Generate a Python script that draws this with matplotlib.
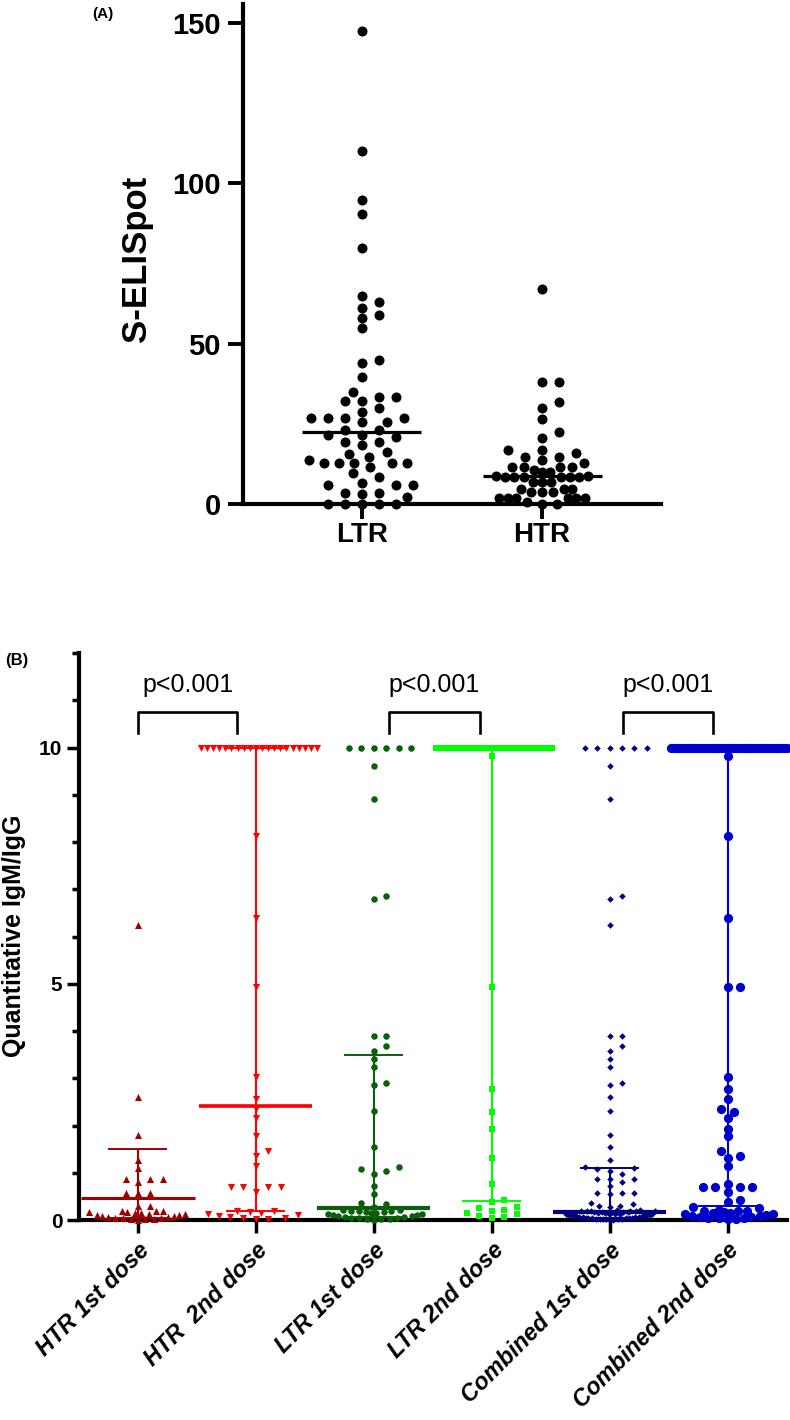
import numpy as np
import matplotlib
matplotlib.use('Agg')
import matplotlib.pyplot as plt
from matplotlib.ticker import FixedLocator

plt.rcParams['font.family'] = ['Liberation Sans', 'DejaVu Sans']

# ---------------- Panel A data ----------------
a_categories = ['LTR', 'HTR']
a_ltr = [147.5, 110, 95, 90.5, 80, 65, 63, 61, 59, 58, 55, 45, 44, 39.5,
         34.8, 33.5, 33.5, 32, 32, 30, 28.8, 26.8, 26.8, 26.8, 26.8, 25.7, 25.7,
         23.1, 23.1, 21.6, 21.6, 20.8, 19.5, 19.5, 18.4, 16.3, 15.6, 14.8, 13.7,
         12.7, 12.7, 12.7, 12.7, 12.7, 11.7, 9.6, 8.5, 6.7, 5.9, 5.9, 5.9,
         3.5, 3.5, 3.2, 2.3, 0, 0, 0, 0, 0]
a_htr = [67, 38, 38, 31.7, 29.9, 26.6, 22.6, 20.7, 16.7, 16.7, 15.8, 14.8, 14.8,
         13.7, 12.7, 11.7, 11.7, 11.7, 11.7, 10.6, 10.1, 10.1, 8.8, 8.8,
         8.5, 8.5, 8.5, 8.5, 8.5, 8.5, 7, 7, 7, 4.6, 4.6, 4.6, 3.9, 3.9, 3.9,
         1.8, 1.8, 1.8, 1.8, 1.8, 1.8, 0.5, 0, 0]
a_medians = [22.4, 8.85]
a_yticks = [0, 50, 100, 150]

# ---------------- Panel B data ----------------
b_categories = ['HTR 1st dose', 'HTR  2nd dose', 'LTR 1st dose', 'LTR 2nd dose',
                'Combined 1st dose', 'Combined 2nd dose']
htr_1st = [6.24, 2.6, 1.8, 1.27, 1.09, 0.87, 0.87, 0.87, 0.8, 0.57, 0.57, 0.57,
           0.3, 0.3, 0.2, 0.19, 0.18, 0.17, 0.16, 0.15, 0.14, 0.13, 0.12, 0.11,
           0.1, 0.09, 0.08, 0.07, 0.06, 0.05, 0.05, 0.04, 0.03, 0.02, 0.02, 0.01]
htr_2nd = [10, 10, 10, 10, 10, 10, 10, 10, 10, 10, 10, 10, 10, 10, 10, 10, 10, 10, 10, 10,
           8.12, 6.4, 4.94, 3.03, 2.56, 2.35, 2.16, 1.78, 1.45, 1.36, 1.15,
           0.7, 0.7, 0.7, 0.7, 0.59,
           0.2, 0.19, 0.17, 0.15, 0.13, 0.11, 0.09, 0.07, 0.05, 0.04, 0.03, 0.02]
ltr_1st = [10, 10, 10, 10, 10, 10, 9.6, 8.92, 6.85, 6.8, 3.9, 3.9, 3.69, 3.58, 3.4,
           3.23, 2.91, 2.85, 2.31, 1.55, 1.12, 1.08, 1.03, 0.98, 0.71, 0.55, 0.35,
           0.33, 0.28, 0.22, 0.21, 0.2, 0.19, 0.18, 0.17, 0.16, 0.15, 0.14, 0.13,
           0.12, 0.11, 0.1, 0.09, 0.08, 0.07, 0.06, 0.05, 0.05, 0.04, 0.03, 0.02,
           0.02, 0.01]
ltr_2nd = [10, 10, 10, 10, 10, 10, 10, 10, 10, 10, 10, 10, 10, 10, 10, 10, 10, 10, 10, 10, 10, 10,
           9.83, 4.93, 2.77, 2.29, 1.93, 1.32, 0.77, 0.42, 0.38, 0.28, 0.26, 0.22,
           0.2, 0.14, 0.12, 0.08, 0.06, 0.04]
combined_1st = htr_1st + ltr_1st
combined_2nd = htr_2nd + ltr_2nd
b_groups = [htr_1st, htr_2nd, ltr_1st, ltr_2nd, combined_1st, combined_2nd]
b_medians = [0.47, 2.42, 0.25, 10.0, 0.16, 10.0]
b_q1 = [0.05, 0.18, 0.06, 0.41, 0.05, 0.3]
b_q3 = [1.5, 10.0, 3.5, 10.0, 1.09, 10.0]
b_colors = ['#A00000', '#FF0000', '#0A600A', '#00FF00', '#000080', '#0000CC']
b_markers = ['^', 'v', 'o', 's', 'D', 'o']
b_sizes = [26, 26, 22, 22, 11, 44]
b_median_lw = [2.2, 2.6, 3.0, 3.5, 3.0, 3.0]
b_yticks = [0, 5, 10]
b_pairs = [(0.004, 0.844), (2.127, 2.899), (4.11, 4.88)]
b_ptext = ['p<0.001', 'p<0.001', 'p<0.001']

W, H = 790, 1420
fig = plt.figure(figsize=(W / 100, H / 100), dpi=100)


def box(l, r, t, b):
    return [l / W, 1 - b / H, (r - l) / W, (b - t) / H]


def swarm(ax, xc, vals, step_px, sy_px, max_half_px):
    vals = np.asarray(vals, float)
    n = len(vals)
    pts = ax.transData.transform(np.column_stack([np.full(n, xc), vals]))
    x0 = pts[0, 0]
    ypx = pts[:, 1]
    order = np.argsort(vals, kind='stable')
    px_, py_, ps_ = [], [], []
    offs = np.zeros(n)
    for i in order:
        y = ypx[i]
        nloc = int(np.sum(np.abs(ypx - y) < sy_px))
        sp = step_px if nloc <= 1 else min(step_px, 2 * max_half_px / (nloc - 1))
        h = sp / 2
        cands = [0.0]
        for m in range(1, 600):
            cands += [m * h, -m * h]
        P = np.array(px_)
        Y = np.array(py_)
        S = np.array(ps_)
        chosen = 0.0
        for c in cands:
            if len(P) == 0:
                chosen = c
                break
            s = np.minimum(S, sp)
            d = ((c - P) / s) ** 2 + ((y - Y) / sy_px) ** 2
            if np.all(d >= 0.999):
                chosen = c
                break
        px_.append(chosen)
        py_.append(y)
        ps_.append(sp)
        offs[i] = chosen
    inv = ax.transData.inverted()
    res = inv.transform(np.column_stack([x0 + offs, ypx]))
    return res[:, 0], vals


# ================= Panel A =================
axA = fig.add_axes(box(243, 661, 4, 504))
axA.set_xlim(-0.66, 1.66)
axA.set_ylim(0, 156)
for sp_ in ['top', 'right']:
    axA.spines[sp_].set_visible(False)
for sp_ in ['left', 'bottom']:
    axA.spines[sp_].set_linewidth(3.0)
axA.set_yticks(a_yticks)
axA.set_yticklabels([str(v) for v in a_yticks], fontsize=21, fontweight='bold')
axA.set_xticks(range(len(a_categories)))
axA.set_xticklabels(a_categories, fontsize=20, fontweight='bold')
axA.tick_params(axis='y', length=11, width=2.8, pad=5)
axA.tick_params(axis='x', length=11, width=2.8, pad=2)

for i, vals in enumerate([a_ltr, a_htr]):
    xs, ys = swarm(axA, i, vals, 17, 9.5, 60)
    axA.scatter(xs, ys, s=52, color='black', linewidths=0, zorder=3, clip_on=False)
    axA.hlines(a_medians[i], i - 0.33, i + 0.33, color='black', lw=2.3, zorder=4)

fig.text(137 / W, 1 - 259 / H, 'S-ELISpot', rotation=90, ha='center', va='center',
         fontsize=25, fontweight='bold')
fig.text(103 / W, 1 - 14 / H, '(A)', ha='center', va='center', fontsize=11, fontweight='bold')

# ================= Panel B =================
axB = fig.add_axes(box(79, 786.5, 653, 1220))
axB.set_xlim(-0.5, 5.5)
axB.set_ylim(0, 12)
for sp_ in ['top', 'right']:
    axB.spines[sp_].set_visible(False)
for sp_ in ['left', 'bottom']:
    axB.spines[sp_].set_linewidth(3.0)
axB.set_yticks(b_yticks)
axB.set_yticklabels([str(v) for v in b_yticks], fontsize=15, fontweight='bold')
axB.yaxis.set_minor_locator(FixedLocator([1, 2, 3, 4, 6, 7, 8, 9, 11, 12]))
axB.tick_params(axis='y', which='major', length=9, width=2.5, pad=3)
axB.tick_params(axis='y', which='minor', length=5, width=2.5)
axB.set_xticks(range(len(b_categories)))
axB.set_xticklabels(b_categories, rotation=45, ha='right', va='top', rotation_mode='anchor',
                    fontsize=16.8, fontweight='bold', fontstyle='italic')
axB.tick_params(axis='x', length=9.5, width=2.5, pad=4)

for i, vals in enumerate(b_groups):
    col = b_colors[i]
    xs, ys = swarm(axB, i, vals, 12.4, 7.0, 58)
    axB.scatter(xs, ys, s=b_sizes[i], marker=b_markers[i], color=col, linewidths=0,
                zorder=3, clip_on=False)
    axB.vlines(i, b_q1[i], b_q3[i], color=col, lw=1.5, zorder=4)
    axB.hlines([b_q1[i], b_q3[i]], i - 0.25, i + 0.25, color=col, lw=1.4, zorder=4)
    axB.hlines(b_medians[i], i - 0.48, i + 0.48, color=col, lw=b_median_lw[i], zorder=4)

for (x1, x2), txt in zip(b_pairs, b_ptext):
    axB.plot([x1, x1, x2, x2], [10.3, 10.75, 10.75, 10.3], color='black', lw=1.9,
             clip_on=False, zorder=5)
    axB.text((x1 + x2) / 2, 11.33, txt, ha='center', va='center', fontsize=18)

fig.text(14 / W, 1 - 936 / H, 'Quantitative IgM/IgG', rotation=90, ha='center',
         va='center', fontsize=18, fontweight='bold')
fig.text(17 / W, 1 - 660 / H, '(B)', ha='center', va='center', fontsize=12, fontweight='bold')

fig.savefig('out.png', dpi=100)
